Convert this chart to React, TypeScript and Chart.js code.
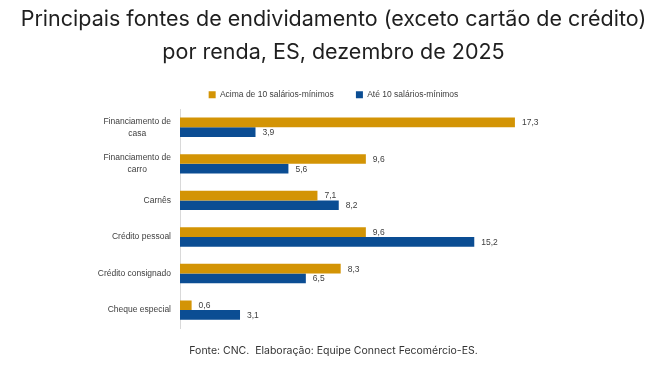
import React, { useEffect, useRef } from "react";
import { Chart, registerables } from "chart.js";

Chart.register(...registerables);

const categories: (string | string[])[] = [
  ["Financiamento de", "casa"],
  ["Financiamento de", "carro"],
  "Carnês",
  "Crédito pessoal",
  "Crédito consignado",
  "Cheque especial",
];
const seriesNames = ["Acima de 10 salários-mínimos", "Até 10 salários-mínimos"];
const acima10 = [17.3, 9.6, 7.1, 9.6, 8.3, 0.6];
const ate10 = [3.9, 5.6, 8.2, 15.2, 6.5, 3.1];
const titleLines = [
  "Principais fontes de endividamento (exceto cartão de crédito)",
  "por renda, ES, dezembro de 2025",
];
const footerText = "Fonte: CNC.  Elaboração: Equipe Connect Fecomércio-ES.";

const ORANGE = "#D39405";
const BLUE = "#0B4D93";
const LABEL_FONT = "8.5px 'Liberation Sans', Arial, sans-serif";

const valueLabels = {
  id: "valueLabels",
  afterDatasetsDraw(chart: any) {
    const ctx = chart.ctx;
    ctx.save();
    ctx.font = LABEL_FONT;
    ctx.fillStyle = "#404040";
    ctx.textAlign = "left";
    ctx.textBaseline = "middle";
    chart.data.datasets.forEach((ds: any, di: number) => {
      const meta = chart.getDatasetMeta(di);
      meta.data.forEach((el: any, i: number) => {
        const v = ds.data[i];
        ctx.fillText(String(v.toFixed(1)).replace(".", ","), el.x + 7, el.y + 0.5);
      });
    });
    ctx.restore();
  },
};

const catLabels = {
  id: "catLabels",
  afterDraw(chart: any) {
    const ctx = chart.ctx;
    const y = chart.scales.y;
    ctx.save();
    ctx.font = LABEL_FONT;
    ctx.fillStyle = "#404040";
    ctx.textAlign = "center";
    ctx.textBaseline = "middle";
    const right = y.right - 9;
    chart.data.labels.forEach((lab: any, i: number) => {
      const lines = Array.isArray(lab) ? lab : [lab];
      const w = Math.max(...lines.map((l: string) => ctx.measureText(l).width));
      const cy = y.getPixelForTick(i);
      lines.forEach((l: string, j: number) => {
        ctx.fillText(l, right - w / 2, cy + (j - (lines.length - 1) / 2) * 12);
      });
    });
    ctx.restore();
  },
};

export default function App() {
  const ref = useRef<HTMLCanvasElement>(null);
  useEffect(() => {
    document.body.style.margin = "0";
    const chart = new Chart(ref.current!, {
      type: "bar",
      data: {
        labels: categories,
        datasets: [
          { label: seriesNames[0], data: acima10, backgroundColor: ORANGE },
          { label: seriesNames[1], data: ate10, backgroundColor: BLUE },
        ],
      },
      options: {
        indexAxis: "y",
        animation: false,
        responsive: false,
        maintainAspectRatio: false,
        layout: { padding: { left: 3, right: 0, top: 0, bottom: 0 } },
        datasets: { bar: { categoryPercentage: 0.53, barPercentage: 1 } },
        scales: {
          x: { display: false, min: 0, max: 25 },
          y: {
            grid: { display: false },
            border: { display: true, color: "#D9D9D9", width: 1 },
            ticks: { color: "rgba(0,0,0,0)", font: { size: 8.5 } },
            afterFit(scale: any) {
              scale.width = 177;
            },
          },
        },
        plugins: {
          title: {
            display: true,
            text: titleLines,
            color: "#1f1f1f",
            font: { family: "Inter, sans-serif", size: 21.5, weight: "normal", lineHeight: 1.535 },
            padding: { top: 3.5, bottom: 13 },
          },
          subtitle: {
            display: true,
            position: "bottom",
            text: footerText,
            color: "#333333",
            font: { family: "Inter, sans-serif", size: 10.5, weight: "normal", lineHeight: 1.2 },
            padding: { top: 16, bottom: 8 },
          },
          legend: {
            position: "top",
            labels: {
              boxWidth: 7,
              boxHeight: 7,
              padding: 8,
              color: "#404040",
              font: { family: "'Liberation Sans', Arial, sans-serif", size: 8.5 },
              generateLabels(chart: any) {
                const items = Chart.defaults.plugins.legend.labels.generateLabels(chart);
                items.forEach((it: any, i: number) => {
                  if (i < items.length - 1) it.text = it.text + "\u00A0\u00A0\u00A0\u00A0\u00A0\u00A0";
                });
                return items;
              },
            },
          },
          tooltip: { enabled: false },
        },
      },
      plugins: [valueLabels, catLabels],
    });
    return () => chart.destroy();
  }, []);
  return <canvas ref={ref} width={664} height={365} style={{ display: "block" }} />;
}
